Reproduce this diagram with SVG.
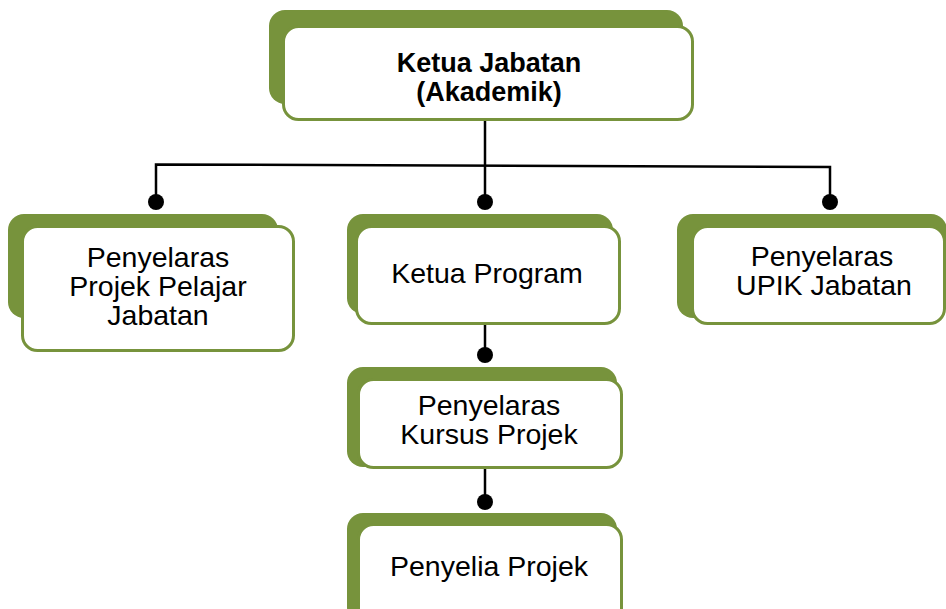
<svg xmlns="http://www.w3.org/2000/svg" width="946" height="609" viewBox="0 0 946 609">
<style>
.back{fill:#77933C;}
.front{fill:#ffffff;stroke:#77933C;stroke-width:3;}
.t{font-family:"Liberation Sans",Arial,sans-serif;font-size:28.5px;fill:#000;text-anchor:middle;}
.tb{font-family:"Liberation Sans",Arial,sans-serif;font-size:27px;font-weight:bold;fill:#000;text-anchor:middle;}
.ln{stroke:#000;stroke-width:2.5;fill:none;}
.dot{fill:#000;}
</style>
<rect width="946" height="609" fill="#ffffff"/>
<g id="connectors">
<line class="ln" x1="485" y1="120" x2="485" y2="202"/>
<polyline class="ln" points="156,202 156,164.5 830,167 830,202"/>
<circle class="dot" cx="156" cy="202" r="8"/>
<circle class="dot" cx="485" cy="202" r="8"/>
<circle class="dot" cx="830" cy="202" r="8"/>
<line class="ln" x1="485" y1="324" x2="485" y2="355"/>
<circle class="dot" cx="485" cy="355" r="8"/>
<line class="ln" x1="485" y1="469" x2="485" y2="502"/>
<circle class="dot" cx="485" cy="502" r="8"/>
</g>
<g id="ketua-jabatan">
<rect class="back" x="269" y="10" width="414" height="94" rx="16"/>
<rect class="front" x="283.5" y="26.5" width="409" height="93" rx="15"/>
<text class="tb" x="489" y="72">Ketua Jabatan</text>
<text class="tb" x="489" y="101">(Akademik)</text>
</g>
<g id="penyelaras-projek-pelajar">
<rect class="back" x="8" y="214" width="270" height="104" rx="16"/>
<rect class="front" x="22.5" y="226.5" width="271" height="124" rx="15"/>
<text class="t" x="158" y="267">Penyelaras</text>
<text class="t" x="158" y="296">Projek Pelajar</text>
<text class="t" x="158" y="325">Jabatan</text>
</g>
<g id="ketua-program">
<rect class="back" x="347" y="214" width="266" height="100" rx="16"/>
<rect class="front" x="356.5" y="226.5" width="263" height="97" rx="15"/>
<text class="t" x="487" y="283">Ketua Program</text>
</g>
<g id="penyelaras-upik">
<rect class="back" x="677" y="214" width="270" height="104" rx="16"/>
<rect class="front" x="692.5" y="226.5" width="252" height="97" rx="15"/>
<text class="t" x="822" y="266">Penyelaras</text>
<text class="t" x="824" y="295">UPIK Jabatan</text>
</g>
<g id="penyelaras-kursus">
<rect class="back" x="347" y="367" width="270" height="100" rx="16"/>
<rect class="front" x="358.5" y="379.5" width="263" height="88" rx="15"/>
<text class="t" x="489" y="415">Penyelaras</text>
<text class="t" x="489" y="444">Kursus Projek</text>
</g>
<g id="penyelia-projek">
<rect class="back" x="347" y="513" width="270" height="110" rx="16"/>
<rect class="front" x="358.5" y="524.5" width="263" height="100" rx="15"/>
<text class="t" x="489" y="576">Penyelia Projek</text>
</g>
</svg>
